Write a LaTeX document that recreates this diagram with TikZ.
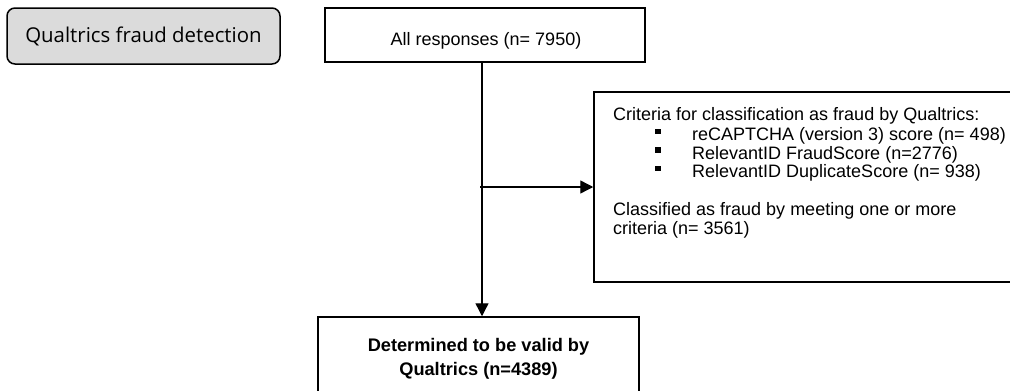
\documentclass[tikz,border=0pt]{standalone}
\usepackage{fontspec}
\setmainfont{Liberation Sans}
\newfontfamily\osans{Open Sans}
\usetikzlibrary{arrows.meta}
\begin{document}
\begin{tikzpicture}[x=1pt,y=-1pt,
  box/.style={draw=black,line width=1.5pt,inner sep=0pt},
  txt/.style={inner sep=0pt,font=\fontsize{18}{19}\selectfont},
  btxt/.style={inner sep=0pt,font=\bfseries\fontsize{18.2}{19}\selectfont},
  conn/.style={line width=1.4pt,-{Triangle[length=13pt,width=13pt]}}]
\useasboundingbox (0,0) rectangle (1010,391);
% boxes
\node[box,fill=black!14,rounded corners=8pt,minimum width=273pt,minimum height=56pt] (qfd) at (143.5,36) {};
\node[inner sep=0pt,anchor=base,font=\osans\fontsize{20.4}{22}\selectfont] (qfdt) at (143.5,42.3) {Qualtrics fraud detection};
\node[box,minimum width=320pt,minimum height=54pt] (resp) at (485,35) {};
\node[txt,anchor=base] (respt) at (486,45) {All responses (n= 7950)};
\node[box,minimum width=418pt,minimum height=190pt] (crit) at (803,187) {};
\node[txt,anchor=base west] (c1) at (613,120.7) {Criteria for classification as fraud by Qualtrics:};
\node[txt,anchor=base west] (c2) at (655,140.7) {\makebox[37pt][l]{\rule[6.5pt]{5.5pt}{5.5pt}}reCAPTCHA (version 3) score (n= 498)};
\node[txt,anchor=base west] (c3) at (655,159.3) {\makebox[37pt][l]{\rule[6.5pt]{5.5pt}{5.5pt}}RelevantID FraudScore (n=2776)};
\node[txt,anchor=base west] (c4) at (655,177.5) {\makebox[37pt][l]{\rule[6.5pt]{5.5pt}{5.5pt}}RelevantID DuplicateScore (n= 938)};
\node[txt,anchor=base west] (c5) at (613,215.5) {Classified as fraud by meeting one or more};
\node[txt,anchor=base west] (c6) at (613,234.5) {criteria (n= 3561)};
\node[box,minimum width=321pt,minimum height=83pt] (valid) at (478.5,358.5) {};
\node[btxt,anchor=base] (v1) at (478.5,351.7) {Determined to be valid by};
\node[btxt,anchor=base] (v2) at (478.5,375) {Qualtrics (n=4389)};
% connectors
\coordinate (jn) at (482,187);
\draw[conn] (resp.south -| jn) -- (valid.north -| jn);
\draw[conn] ([xshift=-2pt]jn) -- (crit.west);
\end{tikzpicture}
\end{document}
